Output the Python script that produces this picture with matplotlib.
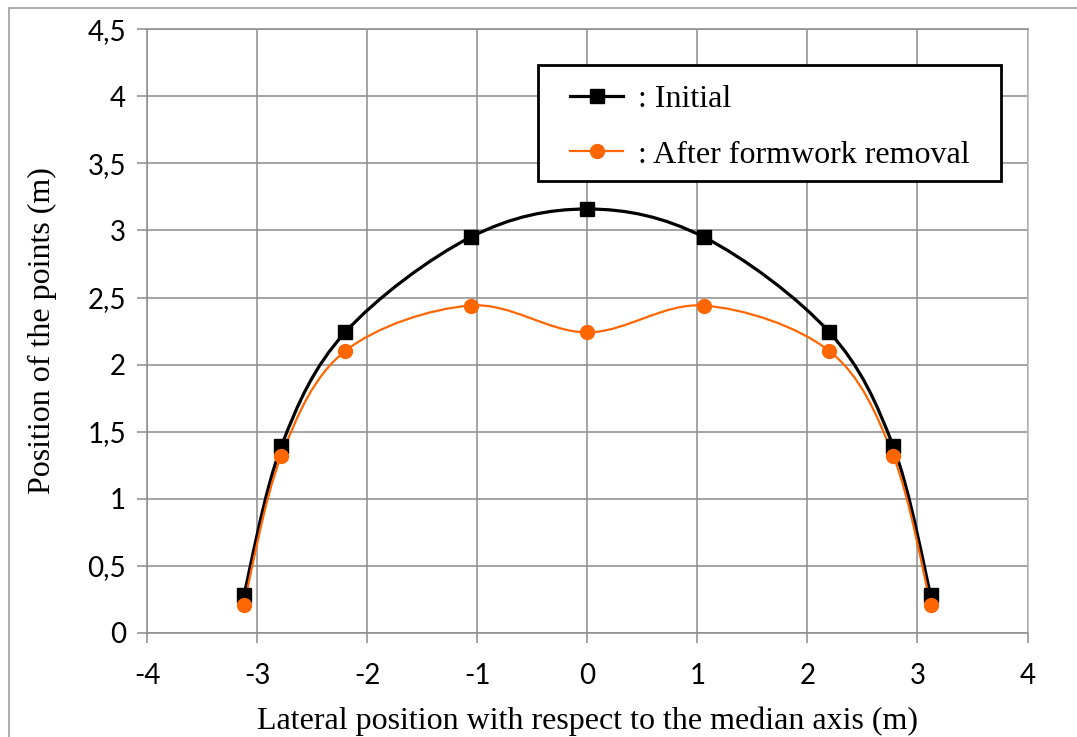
"""Initial vs. after-formwork-removal profile of the arch points."""
import numpy as np
import matplotlib
matplotlib.use("Agg")
import matplotlib.pyplot as plt
from matplotlib.path import Path
from matplotlib.patches import PathPatch, Rectangle
from matplotlib.lines import Line2D

# ---------- Data
lateral = [-3.12, -2.78, -2.20, -1.06, 0.0, 1.06, 2.20, 2.78, 3.12]
initial = [0.28, 1.39, 2.24, 2.95, 3.16, 2.95, 2.24, 1.39, 0.28]
after_removal = [0.21, 1.32, 2.10, 2.44, 2.24, 2.44, 2.10, 1.32, 0.21]

x_ticks = [-4, -3, -2, -1, 0, 1, 2, 3, 4]
y_ticks = [0, 0.5, 1, 1.5, 2, 2.5, 3, 3.5, 4, 4.5]
y_tick_labels = ["0", "0,5", "1", "1,5", "2", "2,5", "3", "3,5", "4", "4,5"]

BLACK = "#000000"
ORANGE = "#FF6600"
GRID = "#8C8C8C"
SERIF = ["Liberation Serif", "DejaVu Serif"]
TICKFONT = ["Lato", "DejaVu Sans"]


def smooth_path(xs, ys):
    """Excel-like smoothed line: cubic Bezier through each point."""
    pts = np.column_stack([xs, ys])
    n = len(pts)
    verts = [pts[0]]
    codes = [Path.MOVETO]
    for i in range(n - 1):
        p0 = pts[i - 1] if i > 0 else pts[i]
        p1, p2 = pts[i], pts[i + 1]
        p3 = pts[i + 2] if i + 2 < n else pts[i + 1]
        c1 = p1 + (p2 - p0) / 6.0
        c2 = p2 - (p3 - p1) / 6.0
        verts += [c1, c2, p2]
        codes += [Path.CURVE4] * 3
    return Path(verts, codes)


fig = plt.figure(figsize=(10.77, 7.37), dpi=100)
ax = fig.add_axes([0.1365, 0.1415, 0.8176, 0.8187])

# outer chart-area frame
fig.patches.append(Rectangle((9 / 1077, -0.1), 1.2, 1 - 8 / 737 + 0.1,
                             transform=fig.transFigure, fill=False,
                             edgecolor="#A6A6A6", linewidth=1.3))

series = [
    (initial, BLACK, "s", 2.3, ": Initial"),
    (after_removal, ORANGE, "o", 1.6, ": After formwork removal"),
]
handles = []
for ys, col, mk, lw, lab in series:
    ax.add_patch(PathPatch(smooth_path(lateral, ys), facecolor="none",
                           edgecolor=col, linewidth=lw, zorder=3))
    ax.plot(lateral, ys, linestyle="none", marker=mk, markersize=10,
            color=col, zorder=4)
    handles.append(Line2D([], [], color=col, linewidth=lw, marker=mk,
                          markersize=10, label=lab))

ax.set_xlim(-4, 4)
ax.set_ylim(0, 4.5)
ax.set_xticks(x_ticks)
ax.set_xticklabels([str(t) for t in x_ticks])
ax.set_yticks(y_ticks)
ax.set_yticklabels(y_tick_labels)
ax.grid(True, color=GRID, linewidth=1.1)
ax.set_axisbelow(True)
ax.tick_params(direction="out", length=7, width=1.1, color=GRID,
               labelsize=20)
ax.tick_params(axis="y", pad=8)
ax.tick_params(axis="x", pad=15)
for t in ax.get_xticklabels() + ax.get_yticklabels():
    t.set_family(TICKFONT)
for side in ["left", "bottom", "top"]:
    ax.spines[side].set_color(GRID)
    ax.spines[side].set_linewidth(1.1)
ax.spines["right"].set_color("#B4B4B4")
ax.spines["right"].set_linewidth(1.1)

ax.set_xlabel("Lateral position with respect to the median axis (m)",
              family=SERIF, fontsize=23)
ax.xaxis.set_label_coords(0.5, -0.122)
ax.set_ylabel("Position of the points (m)", family=SERIF, fontsize=23)
ax.yaxis.set_label_coords(-0.102, 0.5)

# legend: items without frame, frame drawn as its own box
leg = ax.legend(handles=handles, loc="center left",
                bbox_to_anchor=(0.4804, 0.838), borderaxespad=0,
                borderpad=0, prop={"family": SERIF, "size": 23},
                frameon=False, handlelength=1.66, handletextpad=0.47,
                labelspacing=0.82)
ax.add_patch(Rectangle((0.4441, 0.7486), 0.9699 - 0.4441, 0.9408 - 0.7486,
                       transform=ax.transAxes, fill=True, facecolor="white",
                       edgecolor=BLACK, linewidth=2, zorder=5))
leg.set_zorder(6)

fig.savefig("out.png", dpi=100)
